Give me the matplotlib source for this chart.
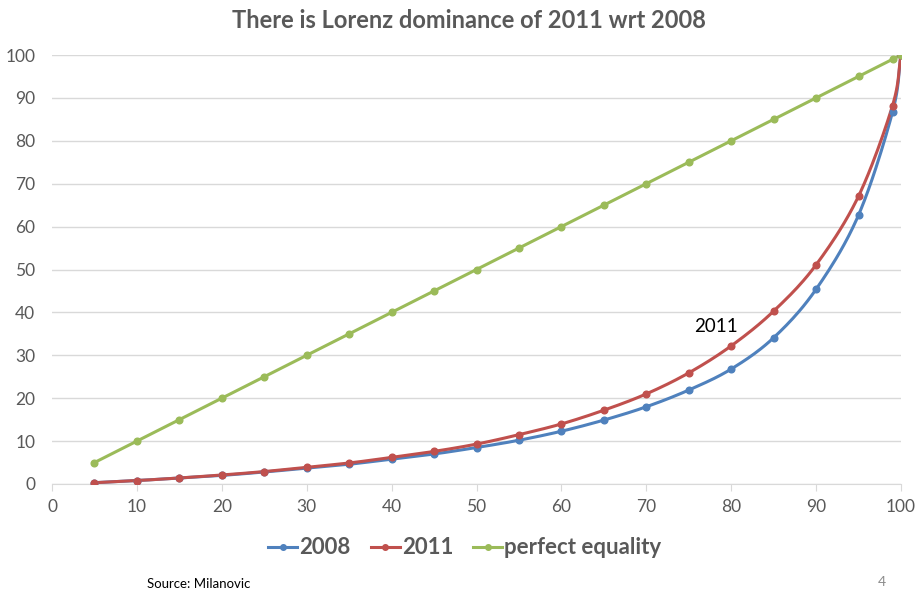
import matplotlib
matplotlib.use("Agg")
import matplotlib.pyplot as plt
import numpy as np

plt.rcParams['font.family'] = ['Lato', 'DejaVu Sans']

# percentiles and cumulative income shares
pct = [5, 10, 15, 20, 25, 30, 35, 40, 45, 50, 55, 60, 65, 70, 75, 80, 85, 90, 95, 99, 100]
y2008 = [0.3, 0.8, 1.4, 2.0, 2.8, 3.7, 4.6, 5.8, 7.0, 8.5, 10.2, 12.3, 14.9, 18.0, 21.9, 26.8, 34.1, 45.4, 62.7, 86.7, 100]
y2011 = [0.3, 0.8, 1.4, 2.1, 2.9, 3.9, 4.9, 6.2, 7.6, 9.3, 11.5, 14.0, 17.2, 21.0, 25.9, 32.2, 40.3, 51.1, 67.1, 88.2, 100]
yeq = [5, 10, 15, 20, 25, 30, 35, 40, 45, 50, 55, 60, 65, 70, 75, 80, 85, 90, 95, 99, 100]


def smooth(x, y, n=20):
    # catmull-rom drawing, like Excel's smoothed lines
    x = np.asarray(x, float); y = np.asarray(y, float)
    px = np.concatenate([[2*x[0]-x[1]], x, [2*x[-1]-x[-2]]])
    py = np.concatenate([[2*y[0]-y[1]], y, [2*y[-1]-y[-2]]])
    xs, ys = [], []
    t = np.linspace(0, 1, n, endpoint=False)
    for i in range(1, len(px)-2):
        for p, out in ((px, xs), (py, ys)):
            p0, p1, p2, p3 = p[i-1], p[i], p[i+1], p[i+2]
            out.extend(0.5*((2*p1) + (-p0+p2)*t + (2*p0-5*p1+4*p2-p3)*t**2 + (-p0+3*p1-3*p2+p3)*t**3))
    xs.append(x[-1]); ys.append(y[-1])
    return xs, ys


fig = plt.figure(figsize=(9.18, 5.96), dpi=100)
ax = fig.add_axes([52/918, 1-484/596, (901-52)/918, (484-55)/596])

series = [(y2008, "#4f81bd", "2008"), (y2011, "#c0504d", "2011"), (yeq, "#9bbb59", "perfect equality")]
for ys, col, lab in series:
    sx, sy = smooth(pct, ys)
    ax.plot(sx, sy, color=col, lw=2.2, zorder=3)
    ax.plot(pct, ys, 'o', color=col, ms=4.8, zorder=4)
    ax.plot([], [], color=col, lw=2.2, marker='o', ms=4, label=lab)

ax.set_xlim(0, 100)
ax.set_ylim(0, 100)
ax.set_xticks(range(0, 101, 10))
ax.set_yticks(range(0, 101, 10))
ax.grid(axis='y', color='#d9d9d9', lw=1)
ax.set_axisbelow(True)
for s in ['top', 'right', 'left']:
    ax.spines[s].set_visible(False)
ax.spines['bottom'].set_color('#d9d9d9')
ax.spines['bottom'].set_clip_on(False)
ax.tick_params(axis='x', colors='#d9d9d9', length=5, labelcolor='#595959', labelsize=12.5, pad=6)
ax.tick_params(axis='y', length=0, labelcolor='#595959', labelsize=12.5, pad=12)

ax.text(78.2, 36.6, "2011", fontsize=13.5, ha='center', va='center', color='black')

fig.text(469/918, 1-20/596, "There is Lorenz dominance of 2011 wrt 2008", ha='center', va='center',
         fontsize=17, fontweight='bold', color='#595959')

leg = fig.legend(loc='center', bbox_to_anchor=(465/918, 1-548/596), ncol=3, frameon=False,
                 prop={'weight': 'bold', 'size': 16}, handlelength=1.3, handletextpad=0.1,
                 columnspacing=0.9)
for t in leg.get_texts():
    t.set_color('#595959')

fig.text(147/918, 1-584/596, "Source: Milanovic", fontsize=9.5, va='center', color='black')
fig.text(878/918, 1-582/596, "4", fontsize=10, va='center', color='#8c8c8c')

fig.savefig("out.png", dpi=100)
